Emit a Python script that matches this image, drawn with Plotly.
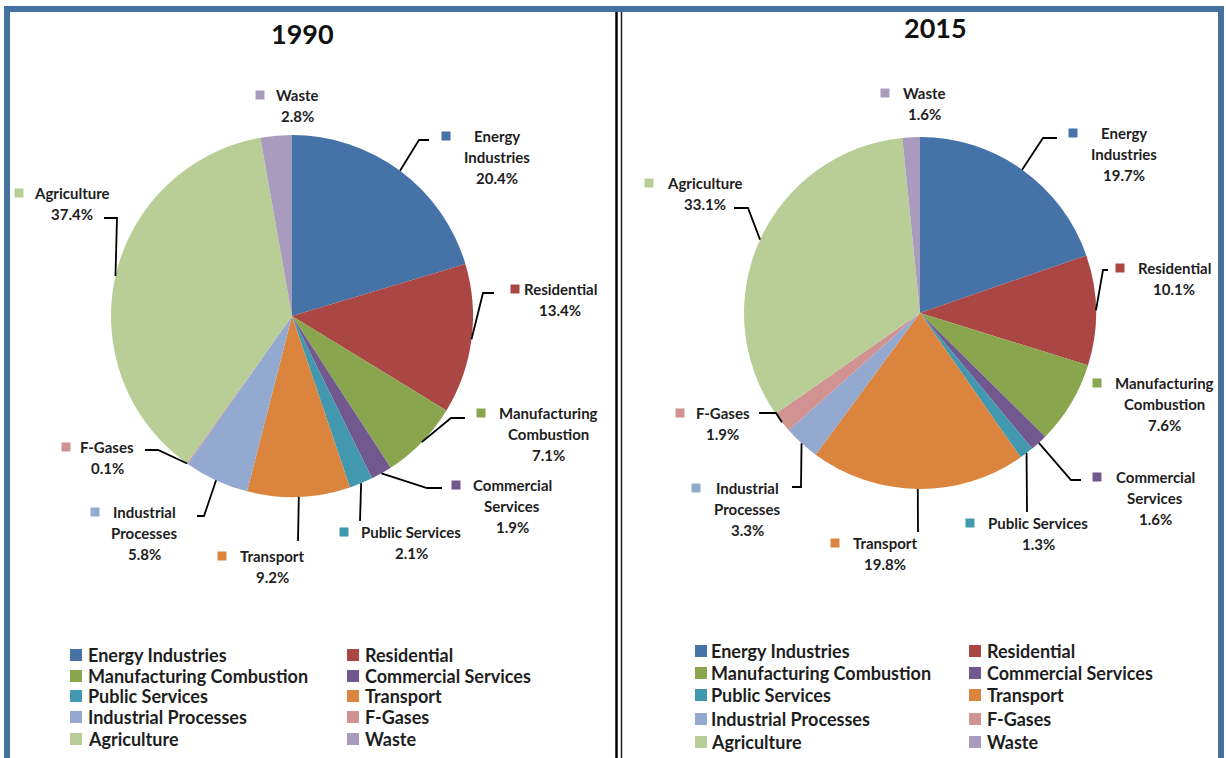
import math
import plotly.graph_objects as go

W, H = 1226, 758

# ---------------- data ----------------
categories = ["Energy Industries", "Residential", "Manufacturing Combustion",
              "Commercial Services", "Public Services", "Transport",
              "Industrial Processes", "F-Gases", "Agriculture", "Waste"]
values_1990 = [20.4, 13.4, 7.1, 1.9, 2.1, 9.2, 5.8, 0.1, 37.4, 2.8]
values_2015 = [19.7, 10.1, 7.6, 1.6, 1.3, 19.8, 3.3, 1.9, 33.1, 1.6]
years = ["1990", "2015"]

# label line breaks (text formatting)
label_lines = {
    "Energy Industries": ["Energy", "Industries"],
    "Manufacturing Combustion": ["Manufacturing", "Combustion"],
    "Commercial Services": ["Commercial", "Services"],
    "Industrial Processes": ["Industrial", "Processes"],
}

colors = ["#4572A7", "#AA4643", "#89A54E", "#71588F", "#4198AF",
          "#DB843D", "#93A9CF", "#D19392", "#B9CD96", "#A99BBD"]

# ---------------- layout (pixel positions) ----------------
PIE = {"1990": dict(cx=292, cy=316, r=181), "2015": dict(cx=920, cy=313, r=176)}
TITLE_POS = {"1990": (302, 34), "2015": (935, 28)}

# label text: (centre x, first line y, marker x)
LABEL_POS = {
    "1990": {
        "Waste": (297, 95, 260),
        "Energy Industries": (497, 136, 446),
        "Residential": (560, 289, 515),
        "Manufacturing Combustion": (548, 413, 481),
        "Commercial Services": (512, 485, 456),
        "Public Services": (411, 532, 344),
        "Transport": (272, 556, 222),
        "Industrial Processes": (144, 512, 95),
        "F-Gases": (107, 447, 66),
        "Agriculture": (72, 193, 19),
    },
    "2015": {
        "Waste": (924, 93, 885),
        "Energy Industries": (1124, 133, 1073),
        "Residential": (1174, 268, 1120),
        "Manufacturing Combustion": (1164, 383, 1097),
        "Commercial Services": (1155, 477, 1097),
        "Public Services": (1038, 523, 970),
        "Transport": (885, 543, 835),
        "Industrial Processes": (747, 488, 696),
        "F-Gases": (723, 413, 680),
        "Agriculture": (705, 183, 649),
    },
}
LINE_GAP = 21

# leader line bends (after the slice edge point)
LEADERS = {
    "1990": {
        "Energy Industries": [(419, 140), (429, 140)],
        "Residential": [(483, 293), (494, 293)],
        "Manufacturing Combustion": [(451, 418), (465, 418)],
        "Commercial Services": [(427, 488), (442, 488)],
        "Public Services": [(360, 521)],
        "Transport": [(298, 541)],
        "Industrial Processes": [(204, 516), (197, 516)],
        "F-Gases": [(158, 450), (145, 450)],
        "Agriculture": [(117, 218), (104, 218)],
    },
    "2015": {
        "Energy Industries": [(1043, 138), (1057, 138)],
        "Residential": [(1103, 270), (1108, 270)],
        "Commercial Services": [(1071, 480), (1081, 480)],
        "Public Services": [(1027, 512)],
        "Transport": [(918, 532)],
        "Industrial Processes": [(801, 487), (792, 487)],
        "F-Gases": [(776, 413), (759, 413)],
        "Agriculture": [(748, 208), (734, 208)],
    },
}

# legend: marker x, text start x per column; row y
LEGEND = {
    "1990": dict(cols=[(76, 86), (353, 363)], rows=[655, 676, 696, 717, 739]),
    "2015": dict(cols=[(701, 709), (975, 985)], rows=[651, 673, 695, 719, 742]),
}

TEXT_COLOR = "#1e1e1e"
FONT = "Lato, 'Open Sans', sans-serif"


def px(x):
    return x / W


def py(y):
    return 1 - y / H


fig = go.Figure()
shapes = []
annotations = []

series = {"1990": values_1990, "2015": values_2015}

for yr in years:
    vals = series[yr]
    g = PIE[yr]
    fig.add_trace(go.Pie(
        labels=categories, values=vals, sort=False, direction="clockwise",
        rotation=0, textinfo="none", hoverinfo="label+percent",
        marker=dict(colors=colors, line=dict(width=0)),
        domain=dict(x=[px(g["cx"] - g["r"]), px(g["cx"] + g["r"])],
                    y=[py(g["cy"] + g["r"]), py(g["cy"] - g["r"])]),
        showlegend=False, name=yr,
    ))

    # title
    tx, ty = TITLE_POS[yr]
    annotations.append(dict(x=px(tx), y=py(ty), xref="paper", yref="paper",
                            text=yr, showarrow=False, xanchor="center", yanchor="middle",
                            font=dict(family=FONT, size=27, color="#111111", weight="bold")))

    total = sum(vals)
    cum = 0.0
    for cat, v, col in zip(categories, vals, colors):
        mid = (cum + v / 2) / total * 2 * math.pi
        cum += v
        # data labels
        lx, ly, mx = LABEL_POS[yr][cat]
        lines = label_lines.get(cat, [cat]) + [f"{v:.1f}%"]
        for i, t in enumerate(lines):
            annotations.append(dict(x=px(lx), y=py(ly + i * LINE_GAP), xref="paper", yref="paper",
                                    text=t, showarrow=False, xanchor="center", yanchor="middle",
                                    font=dict(family=FONT, size=15, color=TEXT_COLOR, weight="bold")))
        s = 4.5
        shapes.append(dict(type="rect", xref="paper", yref="paper",
                           x0=px(mx - s), x1=px(mx + s), y0=py(ly + s), y1=py(ly - s),
                           fillcolor=col, line=dict(width=0)))
        # leader lines
        if cat in LEADERS[yr]:
            sx = g["cx"] + g["r"] * math.sin(mid)
            sy = g["cy"] - g["r"] * math.cos(mid)
            pts = [(sx, sy)] + LEADERS[yr][cat]
            path = "M " + " L ".join(f"{px(a):.5f},{py(b):.5f}" for a, b in pts)
            shapes.append(dict(type="path", xref="paper", yref="paper", path=path,
                               line=dict(color="#000000", width=1.8)))

    # legend
    lg = LEGEND[yr]
    for i, (cat, col) in enumerate(zip(categories, colors)):
        r_i, c_i = divmod(i, 2)
        mxx, tsx = lg["cols"][c_i]
        yy = lg["rows"][r_i]
        s = 6
        shapes.append(dict(type="rect", xref="paper", yref="paper",
                           x0=px(mxx - s), x1=px(mxx + s), y0=py(yy + s), y1=py(yy - s),
                           fillcolor=col, line=dict(width=0)))
        annotations.append(dict(x=px(tsx), y=py(yy), xref="paper", yref="paper",
                                text=cat, showarrow=False, xanchor="left", yanchor="middle",
                                font=dict(family=FONT, size=18, color=TEXT_COLOR, weight="bold")))

# frame and divider
shapes.append(dict(type="rect", xref="paper", yref="paper",
                   x0=px(7), x1=px(1221), y0=py(790), y1=py(9),
                   line=dict(color="#44719f", width=6), fillcolor="rgba(0,0,0,0)", layer="above"))
shapes.append(dict(type="line", xref="paper", yref="paper",
                   x0=px(616.5), x1=px(616.5), y0=py(12), y1=py(790),
                   line=dict(color="#000000", width=2.5)))
shapes.append(dict(type="line", xref="paper", yref="paper",
                   x0=px(621.5), x1=px(621.5), y0=py(12), y1=py(790),
                   line=dict(color="#222222", width=1.5)))

fig.update_layout(
    width=W, height=H, margin=dict(l=0, r=0, t=0, b=0),
    paper_bgcolor="white", plot_bgcolor="white",
    shapes=shapes, annotations=annotations, showlegend=False,
)

fig.write_html("out.html", config={"displayModeBar": False},
               post_script="document.body.style.margin='0';document.body.style.overflow='hidden';")
